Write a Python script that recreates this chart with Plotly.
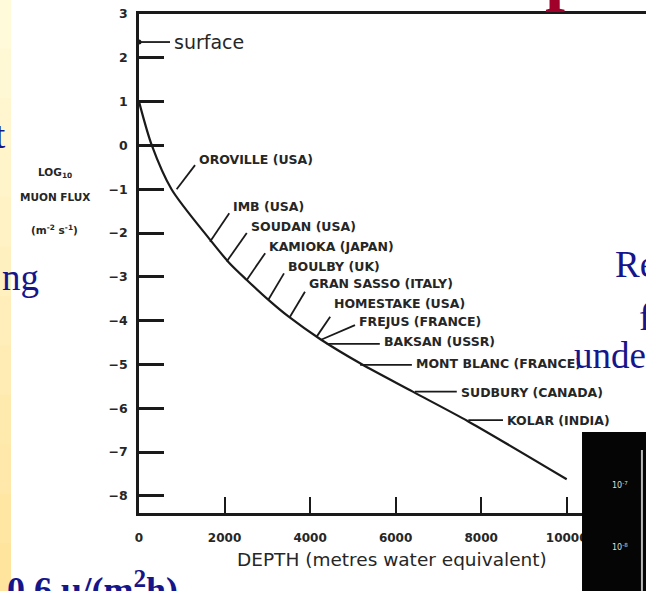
import plotly.graph_objects as go

# ---- data ----
depth_mwe = [0, 300, 760, 1660, 2100, 2520, 3020, 3500, 4250, 5200, 6400, 7700, 10000]
log_flux = [1.0, 0.0, -1.0, -2.15, -2.67, -3.07, -3.52, -3.91, -4.43, -4.99, -5.62, -6.30, -7.62]

lab_names = ["OROVILLE (USA)", "IMB (USA)", "SOUDAN (USA)", "KAMIOKA (JAPAN)", "BOULBY (UK)",
             "GRAN SASSO (ITALY)", "HOMESTAKE (USA)", "FREJUS (FRANCE)", "BAKSAN (USSR)",
             "MONT BLANC (FRANCE)", "SUDBURY (CANADA)", "KOLAR (INDIA)"]
lab_depth = [880, 1660, 2050, 2520, 3020, 3530, 4150, 4270, 4390, 5170, 6450, 7700]
lab_flux = [-1.00, -2.20, -2.65, -3.07, -3.53, -3.91, -4.37, -4.43, -4.53, -5.01, -5.62, -6.27]
tag_depth = [1310, 2110, 2520, 2950, 3390, 3880, 4470, 5050, 5630, 6380, 7430, 8510]
tag_flux = [-0.45, -1.55, -2.00, -2.46, -2.92, -3.34, -3.91, -4.10, -4.53, -5.01, -5.62, -6.27]
text_flux = [-0.33, -1.40, -1.85, -2.31, -2.77, -3.15, -3.60, -4.02, -4.48, -4.97, -5.65, -6.27]

surface_flux = 2.36
surface_tag_depth = 725

x_ticks = [0, 2000, 4000, 6000, 8000, 10000]
x_ticktext = ["0", "2000", "4000", "6000", "8000", "10000"]
y_ticks = [-8, -7, -6, -5, -4, -3, -2, -1, 0, 1, 2, 3]

INK = "#1a1a1a"
TXT = "#262626"
SANS = "DejaVu Sans"
SERIF = "Liberation Serif"
NAVY = "#16168a"

fig = go.Figure()

# main curve
fig.add_trace(go.Scatter(x=depth_mwe, y=log_flux, mode="lines",
                         line=dict(color=INK, width=2.2, shape="spline", smoothing=0.8),
                         hoverinfo="skip", showlegend=False))

# leader lines
lx, ly = [], []
for d0, f0, d1, f1 in zip(lab_depth, lab_flux, tag_depth, tag_flux):
    lx += [d0, d1, None]
    ly += [f0, f1, None]
fig.add_trace(go.Scatter(x=lx, y=ly, mode="lines", line=dict(color=INK, width=1.8),
                         hoverinfo="skip", showlegend=False))

# surface marker
fig.add_trace(go.Scatter(x=[0, surface_tag_depth], y=[surface_flux, surface_flux], mode="lines",
                         line=dict(color=INK, width=1.8), hoverinfo="skip", showlegend=False))
fig.add_trace(go.Scatter(x=[0], y=[surface_flux], mode="markers",
                         marker=dict(color=INK, size=5), hoverinfo="skip", showlegend=False))

annotations = []
for name, d, f in zip(lab_names, tag_depth, text_flux):
    annotations.append(dict(x=d, y=f, xref="x", yref="y", text=name, showarrow=False,
                            xanchor="left", yanchor="middle", xshift=2,
                            font=dict(family=SANS, size=12.5, color=TXT, weight="bold")))
annotations.append(dict(x=surface_tag_depth, y=surface_flux, xref="x", yref="y", text="surface",
                        showarrow=False, xanchor="left", yanchor="middle", xshift=2,
                        font=dict(family=SANS, size=19, color=TXT)))

# axis titles (scanned figure)
annotations.append(dict(x=0.499, y=-0.094, xref="paper", yref="paper",
                        text="DEPTH (metres water equivalent)", showarrow=False,
                        xanchor="center", yanchor="middle",
                        font=dict(family=SANS, size=18.5, color=TXT)))
for txt, yy in [("LOG<sub>10</sub>", 0.681), ("MUON FLUX", 0.633), ("(m<sup>-2</sup> s<sup>-1</sup>)", 0.569)]:
    annotations.append(dict(x=-0.166, y=yy, xref="paper", yref="paper", text=txt, showarrow=False,
                            xanchor="center", yanchor="middle",
                            font=dict(family=SANS, size=10.5, color=TXT, weight="bold")))

# surrounding slide fragments
annotations += [
    dict(x=-0.2584, y=0.7575, xref="paper", yref="paper", text="t", showarrow=False,
         xanchor="right", yanchor="middle", font=dict(family=SERIF, size=37, color=NAVY)),
    dict(x=-0.2742, y=0.471, xref="paper", yref="paper", text="ng", showarrow=False,
         xanchor="left", yanchor="middle", font=dict(family=SERIF, size=37, color=NAVY)),
    dict(x=-0.2643, y=-0.100, xref="paper", yref="paper", text="0.6 μ/(m<sup>2</sup>h)",
         showarrow=False, xanchor="left", yanchor="top",
         font=dict(family=SERIF, size=36, color=NAVY, weight="bold")),
    dict(x=0.935, y=0.497, xref="paper", yref="paper", text="Re", showarrow=False,
         xanchor="left", yanchor="middle", font=dict(family=SERIF, size=37, color=NAVY)),
    dict(x=0.982, y=0.391, xref="paper", yref="paper", text="f", showarrow=False,
         xanchor="left", yanchor="middle", font=dict(family=SERIF, size=37, color=NAVY)),
    dict(x=0.854, y=0.3166, xref="paper", yref="paper", text="unde", showarrow=False,
         xanchor="left", yanchor="middle", font=dict(family=SERIF, size=37, color=NAVY)),
    dict(x=0.797, y=1.082, xref="paper", yref="paper", text="p", showarrow=False,
         xanchor="left", yanchor="middle",
         font=dict(family=SERIF, size=72, color="#a0002a", weight="bold")),
    dict(x=0.9487, y=0.0561, xref="paper", yref="paper", text="10<sup>-7</sup>", showarrow=False,
         xanchor="center", yanchor="middle", font=dict(family=SANS, size=8, color="#dddddd")),
    dict(x=0.9487, y=-0.0681, xref="paper", yref="paper", text="10<sup>-8</sup>", showarrow=False,
         xanchor="center", yanchor="middle", font=dict(family=SANS, size=8, color="#dddddd")),
]

shapes = []
# yellow slide strip (banded gradient)
n_bands = 12
top = (255, 250, 218)
bot = (255, 228, 158)
y_top, y_bot = 1.03, -0.16
for i in range(n_bands):
    t = i / (n_bands - 1)
    c = tuple(round(top[k] + (bot[k] - top[k]) * t) for k in range(3))
    y1 = y_top - (y_top - y_bot) * i / n_bands
    y0 = y_top - (y_top - y_bot) * (i + 1) / n_bands
    shapes.append(dict(type="rect", xref="paper", yref="paper", x0=-0.2745, x1=-0.2525,
                       y0=y0 - 0.002, y1=y1, fillcolor="rgb(%d,%d,%d)" % c, line=dict(width=0),
                       layer="above"))
# black inset picture at bottom right
shapes.append(dict(type="rect", xref="paper", yref="paper", x0=0.8738, x1=1.02, y0=-0.2, y1=0.1623,
                   fillcolor="#050505", line=dict(width=0), layer="above"))
shapes.append(dict(type="line", xref="paper", yref="paper", x0=0.992, x1=0.992, y0=-0.2, y1=0.1263,
                   line=dict(color="#b8b8b8", width=2), layer="above"))

fig.update_layout(
    width=646, height=591,
    margin=dict(l=139, r=0, t=14, b=78, pad=0),
    paper_bgcolor="white", plot_bgcolor="white",
    showlegend=False,
    annotations=annotations,
    shapes=shapes,
    xaxis=dict(range=[0, 11854], showgrid=False, zeroline=False,
               showline=True, linecolor=INK, linewidth=2.5, mirror=True,
               ticks="inside", ticklen=16, tickwidth=2, tickcolor=INK,
               tickvals=x_ticks, ticktext=x_ticktext, ticklabelstandoff=12,
               tickfont=dict(family=SANS, size=12, color=TXT, weight="bold")),
    yaxis=dict(range=[-8.39, 3.0], showgrid=False, zeroline=False,
               showline=True, linecolor=INK, linewidth=2.5, mirror=False,
               ticks="inside", ticklen=25, tickwidth=2.5, tickcolor=INK,
               tickvals=y_ticks, ticklabelstandoff=6,
               tickfont=dict(family=SANS, size=12.5, color=TXT, weight="bold")),
)

fig.write_html("out.html",
               config={"displayModeBar": False},
               post_script="document.documentElement.style.margin='0';"
                           "document.body.style.margin='0';document.body.style.overflow='hidden';")
